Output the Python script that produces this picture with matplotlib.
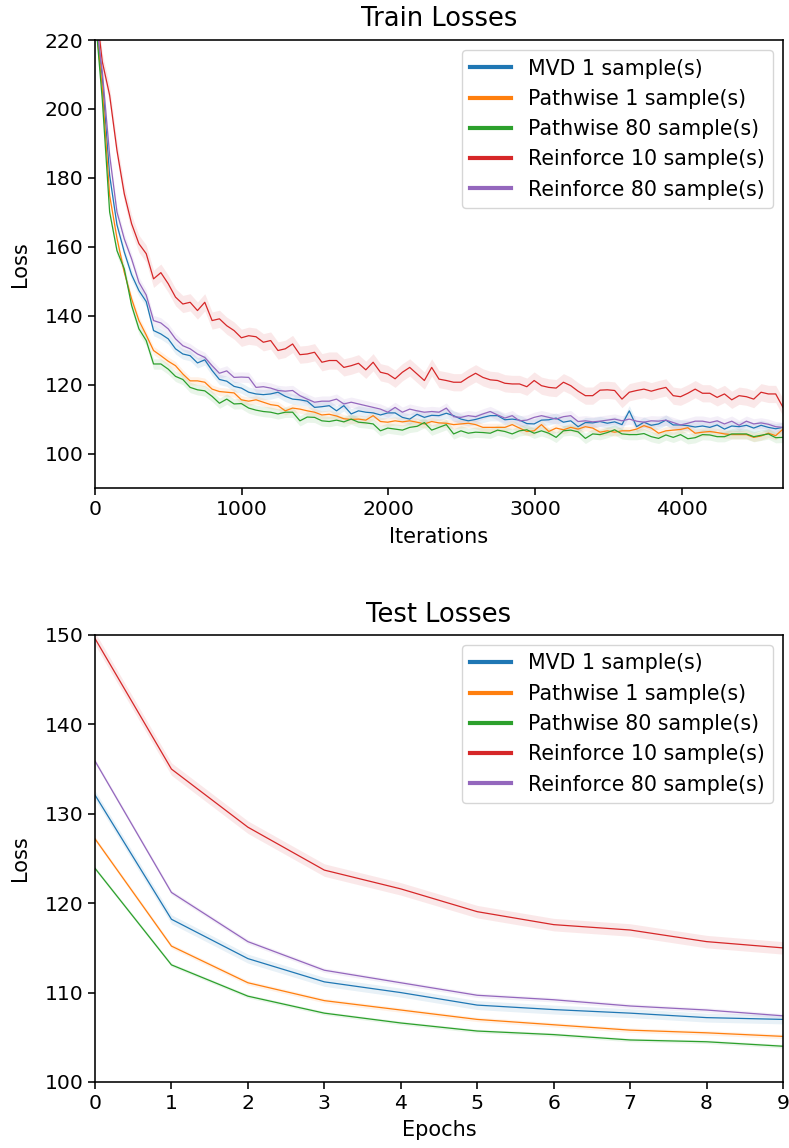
import numpy as np
import matplotlib
matplotlib.use('Agg')
import matplotlib.pyplot as plt

# Train losses, sampled every ~50 iterations from 0 to 4690
train_iters = np.linspace(0, 4690, 95)

train_mvd1 = [
    228, 208.9, 180.7, 166.4, 158.5, 151.9, 147.3, 144.1, 135.7, 134.7,
    133.3, 130.4, 128.9, 128.4, 126.3, 127.2, 124.1, 121.5, 121.0, 119.5,
    119.0, 117.8, 117.3, 117.1, 117.3, 117.8, 116.6, 115.8, 115.6, 115.2,
    113.4, 113.6, 113.9, 112.4, 113.9, 111.5, 112.4, 112.0, 111.8, 111.2,
    111.8, 111.8, 110.5, 110.0, 111.4, 110.5, 111.1, 111.0, 111.7, 111.0,
    110.0, 109.5, 109.9, 110.5, 111.0, 111.0, 109.8, 110.0, 109.7, 108.7,
    108.6, 109.7, 109.8, 110.3, 109.1, 109.5, 107.8, 109.0, 108.9, 109.3,
    108.8, 109.2, 108.4, 112.4, 107.8, 109.1, 108.2, 108.6, 109.7, 108.3,
    108.3, 108.1, 107.7, 108.0, 107.6, 108.3, 107.1, 108.0, 107.8, 108.2,
    107.4, 108.2, 107.6, 107.2, 107.6]

train_path1 = [
    228, 205.9, 174.9, 162.5, 152.6, 144.9, 138.6, 134.4, 129.9, 128.4,
    126.8, 125.5, 123.1, 121.1, 121.1, 120.7, 118.7, 118.0, 117.8, 117.6,
    115.6, 115.2, 115.6, 114.9, 114.2, 113.9, 112.4, 113.2, 112.9, 112.4,
    112.0, 111.2, 111.4, 110.9, 110.1, 109.9, 110.0, 109.7, 111.0, 109.3,
    109.1, 109.5, 109.2, 109.5, 109.1, 108.6, 109.3, 108.9, 108.8, 108.4,
    108.6, 108.8, 108.4, 107.6, 107.6, 107.6, 107.6, 108.4, 107.4, 106.4,
    106.6, 108.4, 106.4, 107.4, 106.9, 107.6, 107.1, 107.8, 107.4, 106.2,
    106.6, 106.2, 106.6, 106.6, 107.1, 108.1, 107.4, 105.9, 106.6, 106.8,
    107.0, 107.5, 105.9, 106.2, 106.4, 106.1, 105.7, 105.5, 105.5, 105.5,
    104.7, 105.1, 105.9, 105.2, 107.1]

train_path80 = [
    228, 202.6, 170.1, 158.9, 153.6, 143.0, 136.2, 132.8, 126.0, 126.0,
    124.5, 122.4, 121.5, 119.2, 118.5, 118.2, 116.6, 114.6, 115.8, 114.4,
    114.5, 113.2, 112.6, 112.2, 112.0, 111.5, 112.0, 112.0, 109.5, 110.6,
    110.5, 109.5, 109.3, 109.7, 109.2, 110.0, 109.1, 108.9, 108.6, 106.6,
    107.4, 107.1, 106.8, 107.6, 107.9, 109.0, 106.8, 107.6, 108.4, 105.7,
    106.6, 105.9, 106.2, 106.1, 105.9, 106.8, 106.4, 105.7, 106.6, 106.9,
    105.9, 106.6, 105.9, 104.7, 106.6, 106.8, 106.3, 104.4, 105.7, 105.5,
    106.1, 106.9, 105.7, 105.5, 105.5, 105.8, 104.9, 104.4, 105.4, 104.7,
    105.5, 104.3, 104.6, 105.5, 105.4, 104.9, 104.9, 105.7, 105.7, 105.7,
    104.9, 105.3, 105.7, 104.6, 104.7]

train_rf10 = [
    232, 213.7, 204.0, 188.0, 175.4, 166.7, 160.9, 158.0, 150.7, 152.5,
    149.3, 145.4, 143.4, 143.9, 141.5, 143.9, 138.6, 139.1, 137.1, 135.7,
    133.6, 134.2, 133.9, 132.3, 132.8, 129.9, 130.4, 131.8, 128.7, 128.9,
    129.4, 126.5, 127.0, 127.0, 125.0, 125.5, 126.2, 124.3, 126.5, 123.6,
    123.1, 121.7, 123.6, 125.0, 123.1, 121.2, 125.0, 121.6, 121.2, 120.7,
    120.7, 122.1, 123.3, 122.1, 121.4, 121.2, 120.4, 120.2, 120.2, 119.4,
    121.2, 119.7, 119.2, 119.0, 120.7, 119.7, 118.1, 116.8, 116.8, 118.4,
    118.5, 118.3, 115.8, 117.8, 118.3, 118.7, 118.1, 118.7, 119.2, 116.8,
    116.5, 117.5, 118.7, 117.5, 117.5, 116.3, 117.3, 115.6, 116.8, 116.5,
    115.8, 117.8, 117.3, 117.3, 113.4]

train_rf80 = [
    228, 210.8, 186.6, 170.1, 162.3, 156.5, 149.7, 146.0, 138.6, 137.9,
    136.2, 133.3, 131.3, 130.4, 128.9, 127.9, 125.5, 123.3, 124.0, 122.1,
    122.2, 122.1, 119.2, 119.4, 119.0, 118.3, 118.1, 118.3, 116.8, 115.8,
    114.9, 115.2, 115.2, 115.8, 114.4, 114.9, 114.4, 113.9, 113.4, 112.9,
    112.0, 113.4, 112.0, 112.9, 112.4, 112.0, 112.2, 112.0, 113.2, 110.7,
    110.5, 111.0, 110.7, 111.5, 112.2, 111.2, 110.3, 111.0, 109.5, 109.7,
    110.5, 111.0, 110.5, 110.0, 110.7, 111.0, 109.3, 109.5, 109.2, 109.4,
    109.7, 110.0, 109.5, 110.0, 109.4, 109.1, 109.5, 109.4, 109.7, 109.0,
    108.3, 108.8, 109.4, 109.4, 109.0, 109.5, 108.6, 109.4, 108.2, 109.4,
    108.6, 108.9, 108.5, 107.8, 107.6]

# Test losses per epoch
test_epochs = np.arange(10)
test_mvd1 = [132.1, 118.2, 113.8, 111.2, 110.0, 108.6, 108.1, 107.7, 107.2, 107.0]
test_path1 = [127.2, 115.2, 111.1, 109.1, 108.05, 107.0, 106.4, 105.8, 105.5, 105.1]
test_path80 = [123.9, 113.1, 109.6, 107.7, 106.6, 105.7, 105.3, 104.7, 104.5, 104.0]
test_rf10 = [149.6, 135.0, 128.5, 123.7, 121.6, 119.05, 117.6, 117.0, 115.7, 115.0]
test_rf80 = [135.9, 121.2, 115.7, 112.5, 111.1, 109.7, 109.2, 108.5, 108.05, 107.4]

labels = ['MVD 1 sample(s)', 'Pathwise 1 sample(s)', 'Pathwise 80 sample(s)',
          'Reinforce 10 sample(s)', 'Reinforce 80 sample(s)']
colors = ['#1f77b4', '#ff7f0e', '#2ca02c', '#d62728', '#9467bd']
train_band = [1.5, 1.2, 1.5, 2.5, 1.5]
test_band = [0.5, 0.25, 0.2, 0.7, 0.25]

plt.rcParams['font.size'] = 14.7
plt.rcParams['axes.labelsize'] = 15
plt.rcParams['axes.labelpad'] = 8
plt.rcParams['axes.linewidth'] = 1.15
plt.rcParams['xtick.major.width'] = 1.15
plt.rcParams['ytick.major.width'] = 1.15
plt.rcParams['xtick.major.size'] = 5
plt.rcParams['ytick.major.size'] = 5

fig = plt.figure(figsize=(7.89, 11.48), dpi=100)
ax1 = fig.add_axes([0.1204, 0.5749, 0.872, 0.3902])
ax2 = fig.add_axes([0.1204, 0.0575, 0.872, 0.3894])

train_series = [train_mvd1, train_path1, train_path80, train_rf10, train_rf80]
test_series = [test_mvd1, test_path1, test_path80, test_rf10, test_rf80]

for ys, c, b in zip(train_series, colors, train_band):
    ys = np.array(ys)
    ax1.fill_between(train_iters, ys - b, ys + b, color=c, alpha=0.1, lw=0)
    ax1.plot(train_iters, ys, color=c, lw=0.9)

for ys, c, b in zip(test_series, colors, test_band):
    ys = np.array(ys)
    ax2.fill_between(test_epochs, ys - b, ys + b, color=c, alpha=0.1, lw=0)
    ax2.plot(test_epochs, ys, color=c, lw=0.9)

handles = [plt.Line2D([], [], color=c, lw=3) for c in colors]

ax1.set_xlim(0, 4690)
ax1.set_ylim(90, 220)
ax1.set_xticks([0, 1000, 2000, 3000, 4000])
ax1.set_yticks(np.arange(100, 221, 20))
ax1.set_title('Train Losses', fontsize=18.5, pad=10)
ax1.set_xlabel('Iterations', labelpad=6)
ax1.set_ylabel('Loss', labelpad=10)
ax1.legend(handles, labels, loc='upper right', fontsize=14.8)

ax2.set_xlim(0, 9)
ax2.set_ylim(100, 150)
ax2.set_xticks(test_epochs)
ax2.set_title('Test Losses', fontsize=18.5, pad=9)
ax2.set_xlabel('Epochs', labelpad=5)
ax2.set_ylabel('Loss', labelpad=10)
ax2.legend(handles, labels, loc='upper right', fontsize=14.8)

fig.savefig('out.png', dpi=100)
